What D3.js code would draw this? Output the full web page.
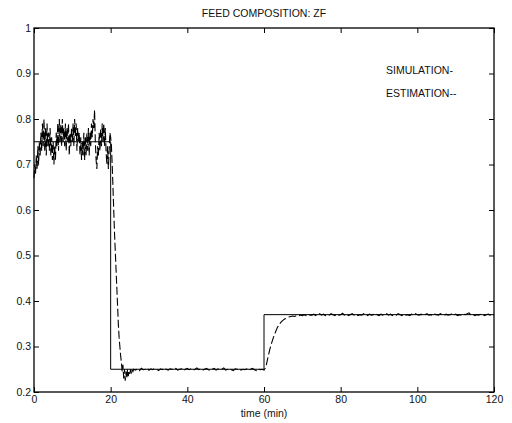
<!DOCTYPE html>
<html>
<head>
<meta charset="utf-8">
<script src="https://cdn.jsdelivr.net/npm/d3@7"></script>
<style>
  body { margin: 0; background: #fff; }
  text { font-family: "Liberation Sans", Arial, sans-serif; fill: #111; }
</style>
</head>
<body>
<svg width="512" height="423"></svg>
<script>
// simulation (solid step signal)
const simTime = [0, 20, 20, 60, 60, 120]
const simValue = [0.75, 0.75, 0.25, 0.25, 0.37, 0.37]

// estimation (dashed), stored per segment: start time, step, values
const estA = [ // t = 0 .. 20, step 0.2
  0.67, 0.70, 0.68, 0.72, 0.69, 0.74, 0.70, 0.75, 0.72, 0.77,
  0.73, 0.79, 0.74, 0.80, 0.73, 0.78, 0.72, 0.79, 0.74, 0.77,
  0.73, 0.78, 0.72, 0.76, 0.71, 0.75, 0.70, 0.74, 0.71, 0.77,
  0.74, 0.79, 0.73, 0.80, 0.75, 0.79, 0.74, 0.80, 0.75, 0.78,
  0.74, 0.79, 0.73, 0.78, 0.75, 0.79, 0.72, 0.77, 0.74, 0.78,
  0.75, 0.79, 0.74, 0.80, 0.76, 0.79, 0.73, 0.78, 0.75, 0.77,
  0.72, 0.76, 0.71, 0.75, 0.72, 0.77, 0.71, 0.76, 0.72, 0.77,
  0.73, 0.78, 0.72, 0.77, 0.74, 0.79, 0.76, 0.80, 0.78, 0.82,
  0.75, 0.71, 0.69, 0.74, 0.72, 0.77, 0.73, 0.78, 0.74, 0.79,
  0.75, 0.79, 0.74, 0.78, 0.73, 0.70, 0.74, 0.69, 0.73, 0.77,
  0.76
]
const estB = [ // t = 20.2 .. 26.0, step 0.2
  0.74, 0.70, 0.65, 0.60, 0.55, 0.51, 0.47, 0.43, 0.39, 0.35,
  0.32, 0.30, 0.28, 0.265, 0.245, 0.26, 0.23, 0.25, 0.225, 0.245,
  0.23, 0.25, 0.235, 0.245, 0.24, 0.25, 0.243, 0.249, 0.245, 0.25
]
const estC = [ // t = 26.5 .. 60, step 0.5
  0.248, 0.251, 0.247, 0.252, 0.249, 0.250, 0.253, 0.248, 0.251, 0.249,
  0.252, 0.250, 0.247, 0.251, 0.249, 0.253, 0.250, 0.248, 0.251, 0.250,
  0.249, 0.252, 0.248, 0.250, 0.251, 0.247, 0.250, 0.252, 0.249, 0.251,
  0.248, 0.250, 0.253, 0.249, 0.251, 0.248, 0.250, 0.252, 0.249, 0.247,
  0.250, 0.252, 0.248, 0.251, 0.249, 0.250, 0.253, 0.248, 0.250, 0.251,
  0.249, 0.247, 0.251, 0.250, 0.252, 0.248, 0.250, 0.249, 0.251, 0.248,
  0.250, 0.252, 0.249, 0.247, 0.251, 0.249, 0.250, 0.248
]
const estD = [ // t = 60.5 .. 72, step 0.5
  0.255, 0.275, 0.293, 0.308, 0.321, 0.332, 0.342, 0.349, 0.354, 0.358,
  0.361, 0.363, 0.365, 0.366, 0.367, 0.366, 0.368, 0.367, 0.369, 0.368,
  0.370, 0.368, 0.370, 0.369
]
const estE = [ // t = 72.5 .. 120, step 0.5
  0.369, 0.371, 0.368, 0.370, 0.372, 0.369, 0.371, 0.368, 0.370, 0.369,
  0.372, 0.370, 0.368, 0.371, 0.369, 0.370, 0.373, 0.369, 0.371, 0.368,
  0.370, 0.372, 0.369, 0.371, 0.368, 0.370, 0.369, 0.372, 0.370, 0.368,
  0.371, 0.369, 0.370, 0.373, 0.370, 0.368, 0.371, 0.369, 0.370, 0.372,
  0.369, 0.371, 0.368, 0.370, 0.369, 0.372, 0.370, 0.368, 0.371, 0.369,
  0.370, 0.368, 0.371, 0.369, 0.372, 0.370, 0.369, 0.371, 0.368, 0.370,
  0.372, 0.369, 0.370, 0.368, 0.371, 0.370, 0.369, 0.372, 0.370, 0.368,
  0.371, 0.369, 0.370, 0.372, 0.369, 0.371, 0.368, 0.370, 0.369, 0.371,
  0.370, 0.372, 0.374, 0.369, 0.371, 0.368, 0.370, 0.369, 0.371, 0.370,
  0.368, 0.370, 0.371, 0.369, 0.370, 0.368
]
const estSegments = [
  { t0: 0, dt: 0.2, values: estA },
  { t0: 20.2, dt: 0.2, values: estB },
  { t0: 26.5, dt: 0.5, values: estC },
  { t0: 60.5, dt: 0.5, values: estD },
  { t0: 72.5, dt: 0.5, values: estE }
]

const xTicks = [0, 20, 40, 60, 80, 100, 120]
const yTicks = [0.2, 0.3, 0.4, 0.5, 0.6, 0.7, 0.8, 0.9, 1]
const legendLabels = ["SIMULATION-", "ESTIMATION--"]

const margin = { left: 34, right: 18, top: 28, bottom: 31 }
const W = 512, H = 423

const svg = d3.select("svg")

const x = d3.scaleLinear().domain([0, 120]).range([margin.left, W - margin.right])
const y = d3.scaleLinear().domain([0.2, 1]).range([H - margin.bottom, margin.top])

const simData = simTime.map((t, i) => [t, simValue[i]])
let estData = []
estSegments.forEach(s => {
  s.values.forEach((v, i) => estData.push([s.t0 + i * s.dt, v]))
})

const line = d3.line().x(d => x(d[0])).y(d => y(d[1]))

svg.append("path")
    .datum(simData)
    .attr("d", line)
    .attr("fill", "none")
    .attr("stroke", "#000")
    .attr("stroke-width", 1)

svg.append("path")
    .datum(estData)
    .attr("d", line)
    .attr("fill", "none")
    .attr("stroke", "#000")
    .attr("stroke-width", 1.1)
    .attr("stroke-dasharray", "8,3")

// axes, ticks inside on all four sides
const tickLen = 5
const fmt = d => d === 1 ? "1" : d3.format(".1f")(d)

svg.append("g")
    .attr("transform", `translate(0,${y(0.2)})`)
    .call(d3.axisBottom(x).tickValues(xTicks).tickSizeInner(-tickLen).tickSizeOuter(0).tickPadding(4))
svg.append("g")
    .attr("transform", `translate(0,${y(1)})`)
    .call(d3.axisTop(x).tickValues(xTicks).tickSizeInner(-tickLen).tickSizeOuter(0).tickFormat(""))
svg.append("g")
    .attr("transform", `translate(${x(0)},0)`)
    .call(d3.axisLeft(y).tickValues(yTicks).tickSizeInner(-tickLen).tickSizeOuter(0).tickPadding(3).tickFormat(fmt))
svg.append("g")
    .attr("transform", `translate(${x(120)},0)`)
    .call(d3.axisRight(y).tickValues(yTicks).tickSizeInner(-tickLen).tickSizeOuter(0).tickFormat(""))

svg.selectAll(".domain").remove()
svg.selectAll(".tick line").attr("stroke", "#000")
svg.selectAll(".tick text")
    .attr("font-family", "'Liberation Sans', Arial, sans-serif")
    .attr("font-size", 10.5)
    .attr("fill", "#222")

svg.append("rect")
    .attr("x", x(0)).attr("y", y(1))
    .attr("width", x(120) - x(0)).attr("height", y(0.2) - y(1))
    .attr("fill", "none")
    .attr("stroke", "#000")
    .attr("stroke-width", 1.3)

svg.append("text")
    .attr("x", (x(0) + x(120)) / 2).attr("y", 17)
    .attr("text-anchor", "middle")
    .attr("font-size", 10.5)
    .text("FEED COMPOSITION: ZF")

svg.append("text")
    .attr("x", (x(0) + x(120)) / 2).attr("y", 417)
    .attr("text-anchor", "middle")
    .attr("font-size", 10.5)
    .text("time (min)")

svg.selectAll(".legend")
    .data(legendLabels)
    .enter()
    .append("text")
    .attr("class", "legend")
    .attr("x", 386)
    .attr("y", (d, i) => 74 + i * 23)
    .attr("font-size", 10.5)
    .text(d => d)
</script>
</body>
</html>
